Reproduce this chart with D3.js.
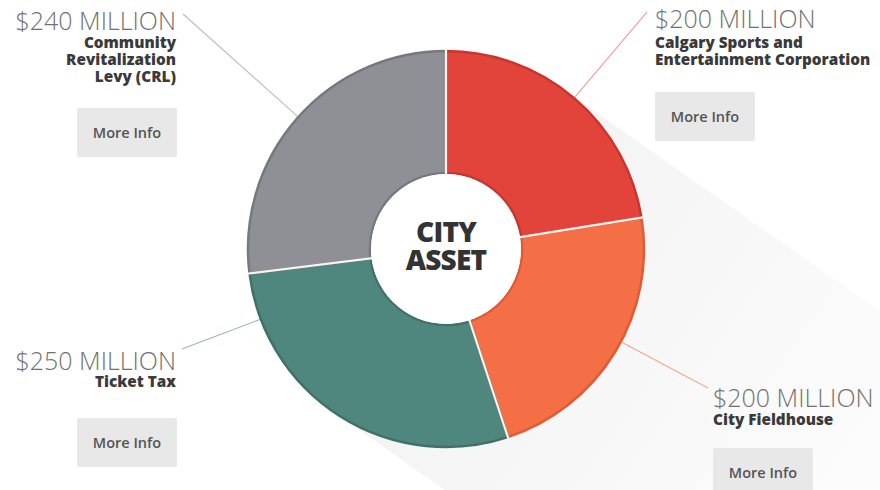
<!DOCTYPE html>
<html>
<head>
<meta charset="utf-8">
<script src="https://cdn.jsdelivr.net/npm/d3@7"></script>
<style>
  body { margin: 0; background: #fff; }
  svg { display: block; font-family: "Open Sans", "Noto Sans", sans-serif; }
</style>
</head>
<body>
<div id="chart"></div>
<script>
// Funding sources, clockwise from 12 o'clock
const categories = ["Calgary Sports and Entertainment Corporation", "City Fieldhouse", "Ticket Tax", "Community Revitalization Levy (CRL)"];
const values = [200, 200, 250, 240];
const amountLabels = ["$200 MILLION", "$200 MILLION", "$250 MILLION", "$240 MILLION"];
const nameLines = [
    ["Calgary Sports and", "Entertainment Corporation"],
    ["City Fieldhouse"],
    ["Ticket Tax"],
    ["Community", "Revitalization", "Levy (CRL)"]
];
const centerLines = ["CITY", "ASSET"];

const colors = ["#e2433a", "#f46f45", "#4f877f", "#8e9095"];
const edgeColors = ["#c9352d", "#e05a33", "#3f716a", "#76787d"];

const width = 880,
    height = 490;
const cx = 446, cy = 249;
const outerR = 198, innerR = 76;

// where each label block sits (leader end point, text anchor, button)
const layout = [
    { lx: 647, ly: 12, tx: 655, anchor: "start", amountY: 28, nameY: 48, bx: 655, by: 92 },
    { lx: 708, ly: 388, tx: 713, anchor: "start", amountY: 407, nameY: 425, bx: 713, by: 448 },
    { lx: 182, ly: 349, tx: 176, anchor: "end", amountY: 370, nameY: 387, bx: 77, by: 418 },
    { lx: 183, ly: 14, tx: 176, anchor: "end", amountY: 30, nameY: 48, bx: 77, by: 108 }
];

const svg = d3.select("#chart")
    .append("svg")
    .attr("width", width)
    .attr("height", height);

// long shadow behind the donut
const shadowAngle = 35 * Math.PI / 180;
const dir = [Math.cos(shadowAngle), Math.sin(shadowAngle)];
const perp = [dir[1], -dir[0]];
const far = 700;
const p1 = [cx + perp[0] * outerR, cy + perp[1] * outerR];
const p2 = [cx - perp[0] * outerR, cy - perp[1] * outerR];

const defs = svg.append("defs");
const grad = defs.append("linearGradient")
    .attr("id", "shadowGrad")
    .attr("gradientUnits", "userSpaceOnUse")
    .attr("x1", cx).attr("y1", cy)
    .attr("x2", cx + dir[0] * 520).attr("y2", cy + dir[1] * 520);
grad.append("stop").attr("offset", "0%").attr("stop-color", "#f3f3f3");
grad.append("stop").attr("offset", "100%").attr("stop-color", "#fdfdfd");

svg.append("path")
    .attr("d", d3.line()([
        p1,
        [p1[0] + dir[0] * far, p1[1] + dir[1] * far],
        [p2[0] + dir[0] * far, p2[1] + dir[1] * far],
        p2,
        [cx, cy]
    ]) + "Z")
    .attr("fill", "url(#shadowGrad)");

// leader lines, radial from the outer rim towards the label
svg.append("g").selectAll("line")
    .data(layout)
    .enter().append("line")
    .attr("x1", function(d) {
        const a = Math.atan2(d.ly - cy, d.lx - cx);
        return cx + Math.cos(a) * outerR;
    })
    .attr("y1", function(d) {
        const a = Math.atan2(d.ly - cy, d.lx - cx);
        return cy + Math.sin(a) * outerR;
    })
    .attr("x2", d => d.lx)
    .attr("y2", d => d.ly)
    .attr("stroke", (d, i) => colors[i])
    .attr("stroke-opacity", 0.6)
    .attr("stroke-width", 1.1);

// donut
const pie = d3.pie().sort(null).value(d => d);
const arcs = pie(values);
const arc = d3.arc().innerRadius(innerR).outerRadius(outerR);

const donut = svg.append("g").attr("transform", `translate(${cx},${cy})`);

// white disc so the shadow does not show through the hole
donut.append("circle").attr("r", outerR).attr("fill", "#fff");

donut.selectAll(".slice")
    .data(arcs)
    .enter().append("path")
    .attr("class", "slice")
    .attr("d", arc)
    .attr("fill", (d, i) => colors[i])
    .attr("stroke", (d, i) => edgeColors[i])
    .attr("stroke-width", 2.5)
    .attr("stroke-linejoin", "round");

// white separators between slices
donut.selectAll(".sep")
    .data(arcs)
    .enter().append("line")
    .attr("class", "sep")
    .attr("x1", d => Math.sin(d.startAngle) * (innerR - 4))
    .attr("y1", d => -Math.cos(d.startAngle) * (innerR - 4))
    .attr("x2", d => Math.sin(d.startAngle) * (outerR + 3))
    .attr("y2", d => -Math.cos(d.startAngle) * (outerR + 3))
    .attr("stroke", "#fbf3ee")
    .attr("stroke-width", 2.2);

donut.append("circle")
    .attr("r", innerR - 1)
    .attr("fill", "#fff");

donut.append("g").selectAll("text")
    .data(centerLines)
    .enter().append("text")
    .attr("x", 0)
    .attr("y", (d, i) => -7 + i * 28)
    .attr("text-anchor", "middle")
    .attr("font-size", 28)
    .attr("font-weight", 800)
    .attr("letter-spacing", -0.8)
    .attr("fill", "#333")
    .text(d => d);

// label blocks
const labels = svg.append("g").selectAll(".label")
    .data(layout)
    .enter().append("g")
    .attr("class", "label");

labels.append("text")
    .attr("x", d => d.tx)
    .attr("y", d => d.amountY)
    .attr("text-anchor", d => d.anchor)
    .attr("font-size", 25)
    .attr("font-weight", 300)
    .attr("fill", "#727272")
    .text((d, i) => amountLabels[i]);

labels.each(function(d, i) {
    d3.select(this).selectAll(".name")
        .data(nameLines[i])
        .enter().append("text")
        .attr("class", "name")
        .attr("x", d.tx)
        .attr("y", (t, j) => d.nameY + j * 17)
        .attr("text-anchor", d.anchor)
        .attr("font-size", 15.3)
        .attr("font-weight", 800)
        .attr("fill", "#3a3a3a")
        .text(t => t);
});

labels.append("rect")
    .attr("x", d => d.bx)
    .attr("y", d => d.by)
    .attr("width", 100)
    .attr("height", 49)
    .attr("rx", 2)
    .attr("fill", "#e8e8e8");

labels.append("text")
    .attr("x", d => d.bx + 50)
    .attr("y", d => d.by + 30)
    .attr("text-anchor", "middle")
    .attr("font-size", 14.5)
    .attr("font-weight", 600)
    .attr("fill", "#555")
    .text("More Info");
</script>
</body>
</html>
